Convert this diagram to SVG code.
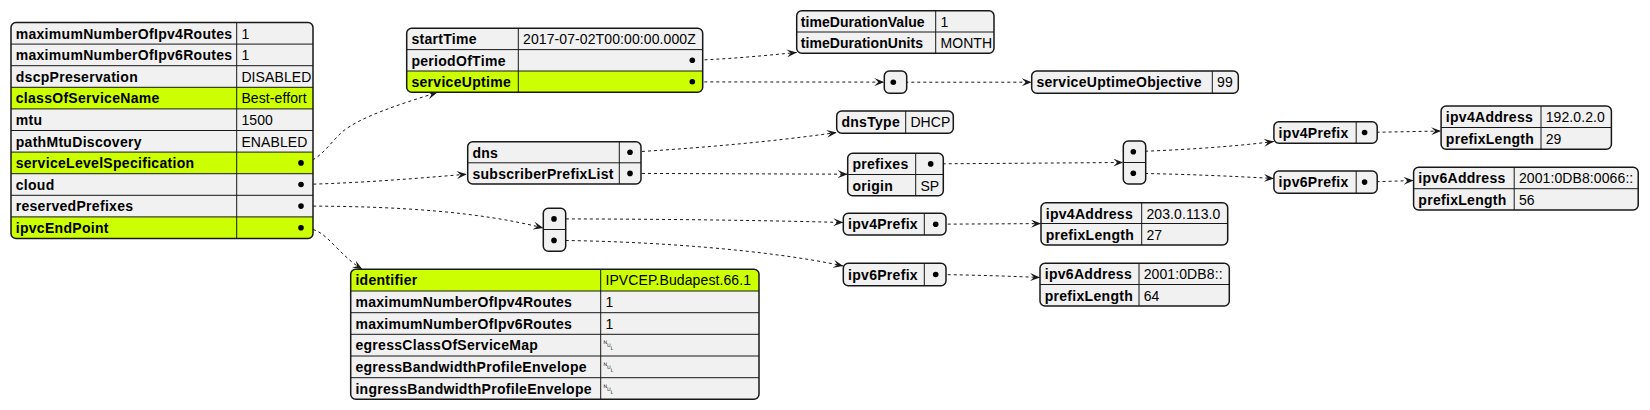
<svg xmlns="http://www.w3.org/2000/svg" width="1650" height="410" viewBox="0 0 1650 410">
<style>
.box{fill:#F1F1F1;stroke:none}
.frame{fill:none;stroke:#181818;stroke-width:1.5}
.ln{stroke:#181818;stroke-width:1;fill:none}
.hl{fill:#CCFF02}
.k{font-family:"Liberation Sans",Arial,sans-serif;font-weight:bold;font-size:14px;fill:#000;letter-spacing:0.3px}
.kt{letter-spacing:0.05px}
.v{font-family:"Liberation Sans",Arial,sans-serif;font-size:14px;fill:#000;letter-spacing:0.1px}
.nul{font-family:"DejaVu Sans",sans-serif;font-size:14px;fill:#000}
.dot{fill:#000}
.edge{fill:none;stroke:#181818;stroke-width:1;stroke-dasharray:3,3;marker-end:url(#ah)}
</style>
<defs>
<marker id="ah" viewBox="0 0 10 8" refX="10" refY="4" markerWidth="10" markerHeight="8" markerUnits="userSpaceOnUse" orient="auto">
<path d="M0,0 L10,4 L0,8 L4,4 Z" fill="#181818"/>
</marker>
<clipPath id="c1"><rect x="11" y="22.5" width="302" height="216" rx="5"/></clipPath>
<clipPath id="c2"><rect x="406.7" y="28.3" width="296" height="64" rx="5"/></clipPath>
<clipPath id="c11"><rect x="350.7" y="269.3" width="408.3" height="130" rx="5"/></clipPath>
</defs>
<rect width="1650" height="410" fill="#FFFFFF"/>

<g id="connectors">
<path class="edge" d="M301,162.9 C318,162.9 328,145 342,132 C360,117 400,104 437.3,92.5"/>
<path class="edge" d="M301,184.5 C360,183 410,179 466.7,174.2"/>
<path class="edge" d="M301,206.1 C400,206 480,212 543.3,228"/>
<path class="edge" d="M301,227.7 C318,227.7 325,236 336,247 C346,257 352,263 362.3,269.3"/>
<path class="edge" d="M692.3,60.3 C730,59 760,56 796.7,52.5"/>
<path class="edge" d="M692.3,81.9 L884.3,82.1"/>
<path class="edge" d="M893.3,82.2 L1031.7,82.2"/>
<path class="edge" d="M630,152.2 C700,148 770,142 836.7,132.5"/>
<path class="edge" d="M630,173.4 L847.7,174.2"/>
<path class="edge" d="M930.7,163.9 L1123.3,162.5"/>
<path class="edge" d="M1133.3,151.7 C1180,150 1230,147 1273.9,141.5"/>
<path class="edge" d="M1133.3,173.3 C1180,174 1230,176 1273.9,178.5"/>
<path class="edge" d="M1364.6,132.5 L1441.1,131"/>
<path class="edge" d="M1364.6,182.1 L1413.6,180.5"/>
<path class="edge" d="M554,218.9 C650,219 750,220 843.3,222.5"/>
<path class="edge" d="M554,240.4 C650,241 770,250 843.3,266"/>
<path class="edge" d="M935.7,224.2 L1041,223.6"/>
<path class="edge" d="M935.7,274.5 C975,275 1005,276 1040,277.5"/>
</g>

<g id="root">
<rect class="box" x="11" y="22.5" width="302" height="216" rx="5"/>
<g clip-path="url(#c1)">
<rect class="hl" x="11" y="87.3" width="302" height="21.6"/>
<rect class="hl" x="11" y="152.1" width="302" height="21.6"/>
<rect class="hl" x="11" y="216.9" width="302" height="21.6"/>
</g>
<path class="ln" d="M11,44.1H313M11,65.7H313M11,87.3H313M11,108.9H313M11,130.5H313M11,152.1H313M11,173.7H313M11,195.3H313M11,216.9H313M236.7,22.5V238.5"/>
<rect class="frame" x="11" y="22.5" width="302" height="216" rx="5"/>
<text class="k" x="15.7" y="38.5">maximumNumberOfIpv4Routes</text>
<text class="k" x="15.7" y="60.1">maximumNumberOfIpv6Routes</text>
<text class="k" x="15.7" y="81.7">dscpPreservation</text>
<text class="k" x="15.7" y="103.3">classOfServiceName</text>
<text class="k" x="15.7" y="124.9">mtu</text>
<text class="k" x="15.7" y="146.5">pathMtuDiscovery</text>
<text class="k" x="15.7" y="168.1">serviceLevelSpecification</text>
<text class="k" x="15.7" y="189.7">cloud</text>
<text class="k" x="15.7" y="211.3">reservedPrefixes</text>
<text class="k" x="15.7" y="232.9">ipvcEndPoint</text>
<text class="v" x="241.4" y="38.5">1</text>
<text class="v" x="241.4" y="60.1">1</text>
<text class="v" x="241.4" y="81.7">DISABLED</text>
<text class="v" x="241.4" y="103.3">Best-effort</text>
<text class="v" x="241.4" y="124.9">1500</text>
<text class="v" x="241.4" y="146.5">ENABLED</text>
<circle class="dot" cx="301" cy="162.9" r="2.8"/>
<circle class="dot" cx="301" cy="184.5" r="2.8"/>
<circle class="dot" cx="301" cy="206.1" r="2.8"/>
<circle class="dot" cx="301" cy="227.7" r="2.8"/>
</g>

<g id="serviceLevelSpecification">
<rect class="box" x="406.7" y="28.3" width="296" height="64" rx="5"/>
<g clip-path="url(#c2)"><rect class="hl" x="406.7" y="71" width="296" height="21.3"/></g>
<path class="ln" d="M406.7,49.6H702.7M406.7,71H702.7M518.3,28.3V92.3"/>
<rect class="frame" x="406.7" y="28.3" width="296" height="64" rx="5"/>
<text class="k" x="411.4" y="44.3">startTime</text>
<text class="k" x="411.4" y="65.6">periodOfTime</text>
<text class="k" x="411.4" y="87">serviceUptime</text>
<text class="v" x="523" y="44.3">2017-07-02T00:00:00.000Z</text>
<circle class="dot" cx="692.3" cy="60.3" r="2.8"/>
<circle class="dot" cx="692.3" cy="81.7" r="2.8"/>
</g>

<g id="periodOfTime">
<rect class="box" x="796.7" y="10.7" width="197.3" height="42.6" rx="5"/>
<path class="ln" d="M796.7,32H994M935.7,10.7V53.3"/>
<rect class="frame" x="796.7" y="10.7" width="197.3" height="42.6" rx="5"/>
<text class="k kt" x="800.8" y="26.7">timeDurationValue</text>
<text class="k kt" x="800.8" y="48">timeDurationUnits</text>
<text class="v" x="940.4" y="26.7">1</text>
<text class="v" x="940.4" y="48">MONTH</text>
</g>

<g id="serviceUptime">
<rect class="box" x="884.3" y="71" width="22.4" height="22.3" rx="5"/>
<rect class="frame" x="884.3" y="71" width="22.4" height="22.3" rx="5"/>
<circle class="dot" cx="893.3" cy="82.2" r="2.8"/>
</g>

<g id="serviceUptimeItem">
<rect class="box" x="1031.7" y="71" width="206.6" height="22.3" rx="5"/>
<path class="ln" d="M1212.3,71V93.3"/>
<rect class="frame" x="1031.7" y="71" width="206.6" height="22.3" rx="5"/>
<text class="k" x="1036.4" y="87">serviceUptimeObjective</text>
<text class="v" x="1217" y="87">99</text>
</g>

<g id="cloud">
<rect class="box" x="467.7" y="141.7" width="173.3" height="42.3" rx="5"/>
<path class="ln" d="M467.7,162.8H641M619.3,141.7V184"/>
<rect class="frame" x="467.7" y="141.7" width="173.3" height="42.3" rx="5"/>
<text class="k" x="472.4" y="157.7">dns</text>
<text class="k" x="472.4" y="178.8">subscriberPrefixList</text>
<circle class="dot" cx="630" cy="152.2" r="2.8"/>
<circle class="dot" cx="630" cy="173.4" r="2.8"/>
</g>

<g id="dns">
<rect class="box" x="836.7" y="111" width="116.6" height="22.3" rx="5"/>
<path class="ln" d="M905.7,111V133.3"/>
<rect class="frame" x="836.7" y="111" width="116.6" height="22.3" rx="5"/>
<text class="k" x="841.4" y="127">dnsType</text>
<text class="v" x="910.4" y="127">DHCP</text>
</g>

<g id="subscriberPrefixList">
<rect class="box" x="847.7" y="153.3" width="95.6" height="42.4" rx="5"/>
<path class="ln" d="M847.7,174.5H943.3M915.7,153.3V195.7"/>
<rect class="frame" x="847.7" y="153.3" width="95.6" height="42.4" rx="5"/>
<text class="k" x="852.4" y="169.3">prefixes</text>
<text class="k" x="852.4" y="190.5">origin</text>
<text class="v" x="920.4" y="190.5">SP</text>
<circle class="dot" cx="930.7" cy="163.9" r="2.8"/>
</g>

<g id="prefixes">
<rect class="box" x="1123.3" y="141" width="22.4" height="43" rx="5"/>
<path class="ln" d="M1123.3,162.5H1145.7"/>
<rect class="frame" x="1123.3" y="141" width="22.4" height="43" rx="5"/>
<circle class="dot" cx="1133.3" cy="151.7" r="2.8"/>
<circle class="dot" cx="1133.3" cy="173.3" r="2.8"/>
</g>

<g id="reservedPrefixes">
<rect class="box" x="543.3" y="208.3" width="22.4" height="43" rx="5"/>
<path class="ln" d="M543.3,229.5H565.7"/>
<rect class="frame" x="543.3" y="208.3" width="22.4" height="43" rx="5"/>
<circle class="dot" cx="554" cy="218.9" r="2.8"/>
<circle class="dot" cx="554" cy="240.4" r="2.8"/>
</g>

<g id="ipvcEndPoint">
<rect class="box" x="350.7" y="269.3" width="408.3" height="130" rx="5"/>
<g clip-path="url(#c11)"><rect class="hl" x="350.7" y="269.3" width="408.3" height="21.7"/></g>
<path class="ln" d="M350.7,291H759M350.7,312.7H759M350.7,334.3H759M350.7,356H759M350.7,377.7H759M600.7,269.3V399.3"/>
<rect class="frame" x="350.7" y="269.3" width="408.3" height="130" rx="5"/>
<text class="k" x="355.4" y="285.3">identifier</text>
<text class="k" x="355.4" y="307">maximumNumberOfIpv4Routes</text>
<text class="k" x="355.4" y="328.7">maximumNumberOfIpv6Routes</text>
<text class="k" x="355.4" y="350.3">egressClassOfServiceMap</text>
<text class="k" x="355.4" y="372">egressBandwidthProfileEnvelope</text>
<text class="k" x="355.4" y="393.7">ingressBandwidthProfileEnvelope</text>
<text class="v" x="605.4" y="285.3">IPVCEP.Budapest.66.1</text>
<text class="v" x="605.4" y="307">1</text>
<text class="v" x="605.4" y="328.7">1</text>
<text class="nul" x="603" y="350.3">␀</text>
<text class="nul" x="603" y="372">␀</text>
<text class="nul" x="603" y="393.7">␀</text>
</g>

<g id="reservedIpv4Prefix">
<rect class="box" x="843.3" y="213.3" width="102.7" height="21.7" rx="5"/>
<path class="ln" d="M924.3,213.3V235"/>
<rect class="frame" x="843.3" y="213.3" width="102.7" height="21.7" rx="5"/>
<text class="k" x="848" y="229.3">ipv4Prefix</text>
<circle class="dot" cx="935.7" cy="224.2" r="2.8"/>
</g>

<g id="reservedIpv6Prefix">
<rect class="box" x="843.3" y="263.3" width="102.7" height="22.4" rx="5"/>
<path class="ln" d="M924.3,263.3V285.7"/>
<rect class="frame" x="843.3" y="263.3" width="102.7" height="22.4" rx="5"/>
<text class="k" x="848" y="279.5">ipv6Prefix</text>
<circle class="dot" cx="935.7" cy="274.5" r="2.8"/>
</g>

<g id="reservedIpv4Address">
<rect class="box" x="1041" y="202.7" width="186.7" height="42.3" rx="5"/>
<path class="ln" d="M1041,223.5H1227.7M1141.7,202.7V245"/>
<rect class="frame" x="1041" y="202.7" width="186.7" height="42.3" rx="5"/>
<text class="k" x="1045.7" y="218.7">ipv4Address</text>
<text class="k" x="1045.7" y="239.5">prefixLength</text>
<text class="v" x="1146.4" y="218.7">203.0.113.0</text>
<text class="v" x="1146.4" y="239.5">27</text>
</g>

<g id="reservedIpv6Address">
<rect class="box" x="1040" y="263.3" width="189.3" height="42.7" rx="5"/>
<path class="ln" d="M1040,284.5H1229.3M1139,263.3V306"/>
<rect class="frame" x="1040" y="263.3" width="189.3" height="42.7" rx="5"/>
<text class="k" x="1044.7" y="279.3">ipv6Address</text>
<text class="k" x="1044.7" y="300.5">prefixLength</text>
<text class="v" x="1143.7" y="279.3">2001:0DB8::</text>
<text class="v" x="1143.7" y="300.5">64</text>
</g>

<g id="subscriberIpv4Prefix">
<rect class="box" x="1273.9" y="121.7" width="103.3" height="21.6" rx="5"/>
<path class="ln" d="M1356.2,121.7V143.3"/>
<rect class="frame" x="1273.9" y="121.7" width="103.3" height="21.6" rx="5"/>
<text class="k" x="1278.6" y="137.7">ipv4Prefix</text>
<circle class="dot" cx="1364.6" cy="132.5" r="2.8"/>
</g>

<g id="subscriberIpv6Prefix">
<rect class="box" x="1273.9" y="171" width="103.3" height="22.3" rx="5"/>
<path class="ln" d="M1356.2,171V193.3"/>
<rect class="frame" x="1273.9" y="171" width="103.3" height="22.3" rx="5"/>
<text class="k" x="1278.6" y="187">ipv6Prefix</text>
<circle class="dot" cx="1364.6" cy="182.1" r="2.8"/>
</g>

<g id="subscriberIpv4Address">
<rect class="box" x="1441.1" y="106" width="170.3" height="43.3" rx="5"/>
<path class="ln" d="M1441.1,127.5H1611.4M1541,106V149.3"/>
<rect class="frame" x="1441.1" y="106" width="170.3" height="43.3" rx="5"/>
<text class="k" x="1445.8" y="122">ipv4Address</text>
<text class="k" x="1445.8" y="143.5">prefixLength</text>
<text class="v" x="1545.7" y="122">192.0.2.0</text>
<text class="v" x="1545.7" y="143.5">29</text>
</g>

<g id="subscriberIpv6Address">
<rect class="box" x="1413.6" y="167.3" width="224.6" height="42.7" rx="5"/>
<path class="ln" d="M1413.6,188.7H1638.2M1514.2,167.3V210"/>
<rect class="frame" x="1413.6" y="167.3" width="224.6" height="42.7" rx="5"/>
<text class="k" x="1418.3" y="183.3">ipv6Address</text>
<text class="k" x="1418.3" y="204.5">prefixLength</text>
<text class="v" x="1518.9" y="183.3">2001:0DB8:0066::</text>
<text class="v" x="1518.9" y="204.5">56</text>
</g>
</svg>
